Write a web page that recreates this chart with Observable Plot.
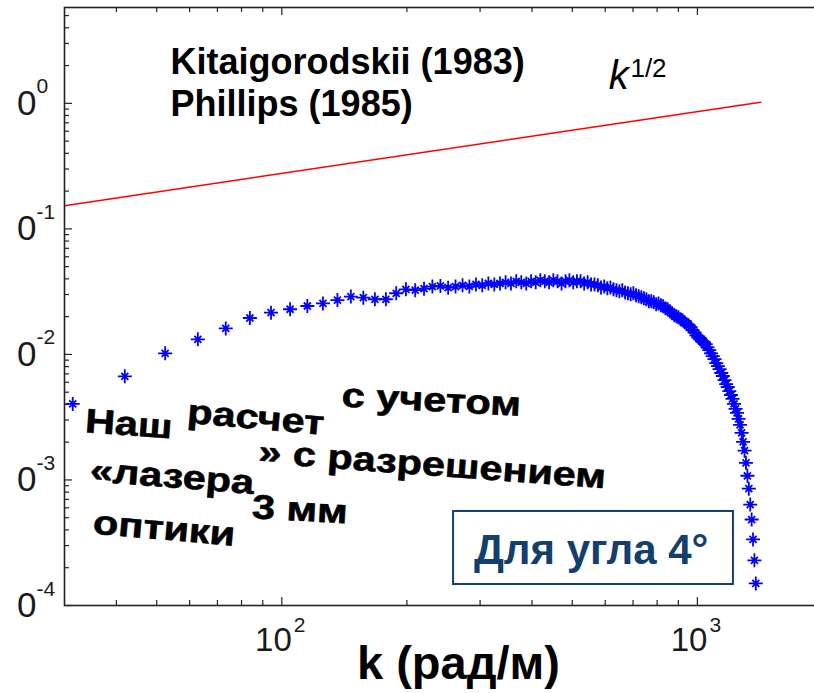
<!DOCTYPE html>
<html><head><meta charset="utf-8">
<script src="https://cdn.jsdelivr.net/npm/d3@7"></script>
<script src="https://cdn.jsdelivr.net/npm/@observablehq/plot@0.6"></script>
<style>html,body{margin:0;padding:0;background:#fff;overflow:hidden;width:814px;height:693px}
#chart svg{max-width:none !important;width:830px !important;height:693px !important}</style>
</head><body><div id="chart"></div>
<script>
// wavenumber k (rad/m)
const k = [
31.4, 41.9, 52.4, 62.8, 73.3, 83.8, 94.2, 104.7, 115.2, 125.6,
136.1, 146.6, 157.1, 167.5, 178.0, 188.5, 198.9, 209.4, 219.9, 230.3,
240.8, 251.3, 261.8, 272.2, 282.7, 293.2, 303.6, 314.1, 324.6, 335.0,
345.5, 356.0, 366.5, 376.9, 387.4, 397.9, 408.3, 418.8, 429.3, 439.7,
450.2, 460.7, 471.2, 481.6, 492.1, 502.6, 513.0, 523.5, 534.0, 544.4,
554.9, 565.4, 575.9, 586.3, 596.8, 607.3, 617.7, 628.2, 638.7, 649.1,
659.6, 670.1, 680.6, 691.0, 701.5, 712.0, 722.4, 732.9, 743.4, 753.8,
764.3, 774.8, 785.3, 795.7, 806.2, 816.7, 827.1, 837.6, 848.1, 858.5,
869.0, 879.5, 890.0, 900.4, 910.9, 921.4, 931.8, 942.3, 952.8, 963.2,
973.7, 984.2, 994.7, 1005.1, 1015.6, 1026.1, 1036.5, 1047.0, 1057.5, 1067.9,
1078.4, 1088.9, 1099.4, 1109.8, 1120.3, 1130.8, 1141.2, 1151.7, 1162.2, 1172.6,
1183.1, 1193.6, 1204.1, 1214.5, 1225.0, 1235.5, 1245.9, 1256.4, 1266.9, 1277.3,
1287.8, 1298.3, 1308.8, 1319.2, 1329.7, 1340.2, 1350.6, 1361.1, 1371.6, 1382.0
];
// computed spectrum values
const spectrum = [
0.00403, 0.00669, 0.0102, 0.0132, 0.0161, 0.0195, 0.0215, 0.0229, 0.0243, 0.0255,
0.0271, 0.0289, 0.0283, 0.0275, 0.0275, 0.0307, 0.0330, 0.0325, 0.0334, 0.0347,
0.0351, 0.0340, 0.0347, 0.0355, 0.0348, 0.0361, 0.0355, 0.0368, 0.0361, 0.0368,
0.0375, 0.0368, 0.0382, 0.0375, 0.0368, 0.0382, 0.0375, 0.0389, 0.0382, 0.0375,
0.0389, 0.0382, 0.0368, 0.0382, 0.0389, 0.0375, 0.0382, 0.0382, 0.0368, 0.0375,
0.0361, 0.0361, 0.0355, 0.0342, 0.0348, 0.0336, 0.0342, 0.0330, 0.0324, 0.0318,
0.0324, 0.0312, 0.0307, 0.0301, 0.0307, 0.0296, 0.0290, 0.0285, 0.0280, 0.0275,
0.0265, 0.0265, 0.0260, 0.0251, 0.0255, 0.0246, 0.0242, 0.0233, 0.0229, 0.0221,
0.0213, 0.0205, 0.0201, 0.0198, 0.0191, 0.0187, 0.0180, 0.0174, 0.0171, 0.0165,
0.0156, 0.0150, 0.0142, 0.0137, 0.0132, 0.0127, 0.0125, 0.0121, 0.0114, 0.0108,
0.0102, 0.00969, 0.00918, 0.00853, 0.00807, 0.00764, 0.00711, 0.00673, 0.00625, 0.00581,
0.00550, 0.00511, 0.00475, 0.00442, 0.00403, 0.00368, 0.00342, 0.00307, 0.00275, 0.00237,
0.00201, 0.00171, 0.00137, 0.00108, 0.000853, 0.000637, 0.000484, 0.000336, 0.000229, 0.000150
];
// k^(1/2) reference line (Kitaigorodskii / Phillips)
const refK = [30, 1420];
const refS = [0.153, 1.02];

// axis ticks
const xMajor = [100, 1000];
const xMajorBase = ["10", "10"];
const xMajorExp = ["2", "3"];
const xMinor = [40, 50, 60, 70, 80, 90, 200, 300, 400, 500, 600, 700, 800, 900, 2000];
const yMajor = [1e-4, 1e-3, 1e-2, 1e-1, 1];
const yMajorBase = ["0", "0", "0", "0", "0"];
const yMajorExp = ["-4", "-3", "-2", "-1", "0"];
const yMinor = [
  2e-4, 3e-4, 4e-4, 5e-4, 6e-4, 7e-4, 8e-4, 9e-4,
  2e-3, 3e-3, 4e-3, 5e-3, 6e-3, 7e-3, 8e-3, 9e-3,
  2e-2, 3e-2, 4e-2, 5e-2, 6e-2, 7e-2, 8e-2, 9e-2,
  0.2, 0.3, 0.4, 0.5, 0.6, 0.7, 0.8, 0.9,
  2, 3, 4, 5
];

// texts
const xTitle = "k (рад/м)";
const refLines = [
  {text: "Kitaigorodskii (1983)", k: 54.0, v: 1.70},
  {text: "Phillips (1985)", k: 54.0, v: 0.80}
];
const slopeBase = {text: "k", k: 612, v: 1.31};
const slopeExp = {text: "1/2", k: 690, v: 1.61};
const notes = [
  {text: "Наш", k: 33.5, v: 2.4e-3},
  {text: "расчет", k: 59.0, v: 2.85e-3},
  {text: "с учетом", k: 139.0, v: 3.85e-3},
  {text: "«лазера", k: 34.4, v: 0.98e-3},
  {text: "» с разрешением", k: 87.5, v: 1.37e-3},
  {text: "3 мм", k: 84.5, v: 4.95e-4},
  {text: "оптики", k: 35.0, v: 3.75e-4}
];
const noteRotate = [4, 5, 3, 4.5, 4.2, 3, 5];
const boxLabel = {text: "Для угла 4°", k: 555, v: 2.15e-4};
const box = {k1: 259, k2: 1221, v1: 1.47e-4, v2: 5.61e-4};

const W = 830, H = 693, mL = 64, mR = 8, mT = 7, mB = 88;
const fw = W - mL - mR, fh = H - mT - mB;
const navy = "#123f6d";
const axisColor = "#222";

const asterisk = {
  draw(ctx, size) {
    const r = Math.sqrt(size / Math.PI), d = r * 0.5;
    ctx.moveTo(-r, 0); ctx.lineTo(r, 0);
    ctx.moveTo(0, -r); ctx.lineTo(0, r);
    ctx.moveTo(-d, -d); ctx.lineTo(d, d);
    ctx.moveTo(-d, d); ctx.lineTo(d, -d);
  }
};

const points = k.map((kk, i) => ({k: kk, s: spectrum[i]}));
const ref = refK.map((kk, i) => ({k: kk, s: refS[i]}));

const noteMarks = notes.map((n, i) => Plot.text([n], {
  x: "k", y: "v", text: "text", textAnchor: "start", lineAnchor: "bottom",
  rotate: noteRotate[i], fontSize: 34, fontWeight: "bold",
  fontFamily: "Liberation Sans, Arial, sans-serif", fill: "#000",
  stroke: "#000", strokeWidth: 0.6
}));

const chart = Plot.plot({
  width: W, height: H,
  marginLeft: mL, marginRight: mR, marginTop: mT, marginBottom: mB,
  style: {fontFamily: "Liberation Sans, Arial, sans-serif", background: "#fff", overflow: "visible", maxWidth: "none"},
  x: {type: "log", domain: [30, 2000], axis: null},
  y: {type: "log", domain: [1e-4, 5.8], axis: null},
  marks: [
    // ticks (inward, all four sides)
    Plot.tickX(xMajor, {x: d => d, insetTop: fh - 8, stroke: axisColor, strokeWidth: 1.2}),
    Plot.tickX(xMajor, {x: d => d, insetBottom: fh - 8, stroke: axisColor, strokeWidth: 1.2}),
    Plot.tickX(xMinor, {x: d => d, insetTop: fh - 5, stroke: axisColor, strokeWidth: 1.2}),
    Plot.tickX(xMinor, {x: d => d, insetBottom: fh - 5, stroke: axisColor, strokeWidth: 1.2}),
    Plot.tickY(yMajor, {y: d => d, insetRight: fw - 8, stroke: axisColor, strokeWidth: 1.2}),
    Plot.tickY(yMajor, {y: d => d, insetLeft: fw - 8, stroke: axisColor, strokeWidth: 1.2}),
    Plot.tickY(yMinor, {y: d => d, insetRight: fw - 5, stroke: axisColor, strokeWidth: 1.2}),
    Plot.tickY(yMinor, {y: d => d, insetLeft: fw - 5, stroke: axisColor, strokeWidth: 1.2}),
    // tick labels
    Plot.text(xMajor, {x: d => d, text: (d, i) => xMajorBase[i], frameAnchor: "bottom", textAnchor: "end",
      lineAnchor: "bottom", dx: 10, dy: 45, fontSize: 33, fill: "#1a1a1a"}),
    Plot.text(xMajor, {x: d => d, text: (d, i) => xMajorExp[i], frameAnchor: "bottom", textAnchor: "start",
      lineAnchor: "bottom", dx: 12, dy: 26, fontSize: 21, fill: "#1a1a1a"}),
    Plot.text(yMajor, {y: d => d, text: (d, i) => yMajorBase[i], frameAnchor: "left", textAnchor: "start",
      lineAnchor: "bottom", dx: -47.5, dy: 11.5, fontSize: 35, fill: "#1a1a1a"}),
    Plot.text(yMajor, {y: d => d, text: (d, i) => yMajorExp[i], frameAnchor: "left", textAnchor: "start",
      lineAnchor: "bottom", dx: -28, dy: -10, fontSize: 21, fill: "#1a1a1a"}),
    // x axis title
    Plot.text([xTitle], {text: d => d, frameAnchor: "bottom", textAnchor: "middle", lineAnchor: "bottom",
      dx: 15, dy: 73, fontSize: 47, fontWeight: "bold", fill: "#000"}),
    // reference k^1/2 line
    Plot.line(ref, {x: "k", y: "s", stroke: "#ff0000", strokeWidth: 1.5}),
    // computed spectrum
    Plot.dot(points, {x: "k", y: "s", symbol: asterisk, r: 7, stroke: "#0000ff", fill: "none", strokeWidth: 1.8}),
    // reference labels
    Plot.text(refLines, {x: "k", y: "v", text: "text", textAnchor: "start", lineAnchor: "bottom",
      fontSize: 36, fontWeight: "bold", fill: "#000"}),
    Plot.text([slopeBase], {x: "k", y: "v", text: "text", textAnchor: "start", lineAnchor: "bottom",
      fontSize: 40, fontStyle: "italic", fill: "#000"}),
    Plot.text([slopeExp], {x: "k", y: "v", text: "text", textAnchor: "start", lineAnchor: "bottom",
      fontSize: 26, fill: "#000"}),
    ...noteMarks,
    // angle box
    Plot.rect([box], {x1: "k1", x2: "k2", y1: "v1", y2: "v2", fill: "#fff", stroke: navy, strokeWidth: 2}),
    Plot.text([boxLabel], {x: "k", y: "v", text: "text", textAnchor: "middle", lineAnchor: "bottom",
      fontSize: 42, fontWeight: "bold", fill: navy}),
    Plot.frame({stroke: axisColor, strokeWidth: 1.6})
  ]
});
// horizontally stretched annotation lettering, as in the original slide
const noteTexts = notes.map(n => n.text);
d3.select(chart).selectAll("text")
  .filter(function() { return noteTexts.includes(this.textContent); })
  .attr("transform", function() { return (this.getAttribute("transform") || "") + " scale(1.22,1)"; });
document.getElementById("chart").appendChild(chart);
</script>
</body></html>
